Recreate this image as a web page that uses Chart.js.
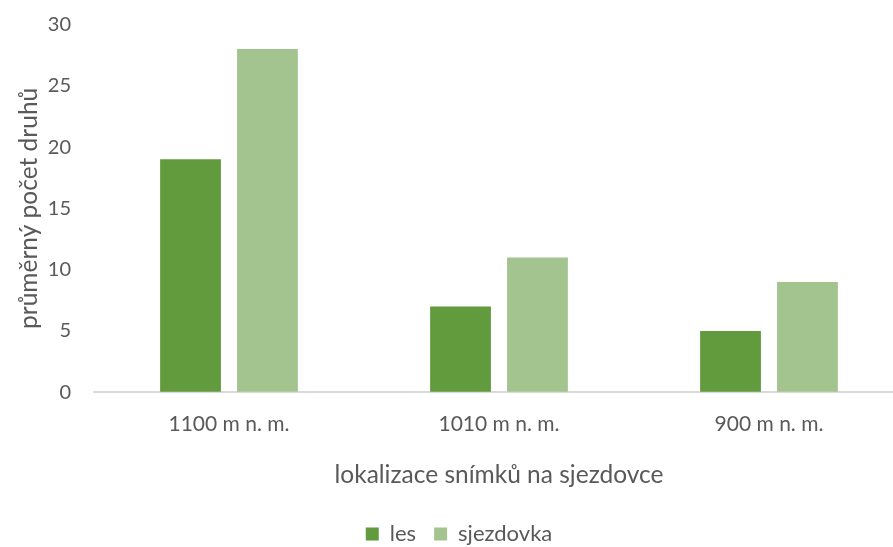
<!DOCTYPE html>
<html>
<head>
<meta charset="utf-8">
<script src="https://cdn.jsdelivr.net/npm/chart.js@4/dist/chart.umd.min.js"></script>
<style>
  html, body { margin: 0; padding: 0; background: #fff; overflow: hidden; }
  #wrap { width: 911px; height: 547px; }
</style>
</head>
<body>
<div id="wrap"><canvas id="barChart" width="911" height="547"></canvas></div>
<script>
const categories = ['1100 m n. m.', '1010 m n. m.', '900 m n. m.'];
const lesValues = [19, 7, 5];
const sjezdovkaValues = [28, 11, 9];
const yTicks = [0, 5, 10, 15, 20, 25, 30];

const textColor = '#595959';
const fontFamily = 'Lato, Carlito, Calibri, sans-serif';

Chart.defaults.font.family = fontFamily;
Chart.defaults.color = textColor;

const ctx = document.getElementById('barChart');
new Chart(ctx, {
  type: 'bar',
  data: {
    labels: categories,
    datasets: [
      {
        label: 'les',
        data: lesValues,
        backgroundColor: '#629A3E',
        categoryPercentage: 0.57,
        barPercentage: 0.79
      },
      {
        label: 'sjezdovka',
        data: sjezdovkaValues,
        backgroundColor: '#A3C48F',
        categoryPercentage: 0.57,
        barPercentage: 0.79
      }
    ]
  },
  options: {
    responsive: false,
    animation: false,
    layout: { padding: { top: 24.5, right: 7, left: 14, bottom: -8 } },
    plugins: {
      tooltip: { enabled: false },
      legend: {
        position: 'bottom',
        labels: {
          boxWidth: 13,
          boxHeight: 13,
          padding: 18,
          font: { size: 22 },
          color: textColor
        }
      }
    },
    scales: {
      x: {
        grid: { display: false, drawTicks: false },
        border: { display: true, color: '#D9D9D9', width: 2 },
        ticks: { padding: 19, font: { size: 21 } },
        title: {
          display: true,
          text: 'lokalizace snímků na sjezdovce',
          font: { size: 24.5 },
          padding: { top: 5.3, bottom: 14.8 }
        }
      },
      y: {
        min: 0,
        max: 30,
        afterBuildTicks: (scale) => { scale.ticks = yTicks.map(v => ({ value: v })); },
        // tick marks are invisible, used only to space the labels from the plot
        grid: { display: true, drawOnChartArea: false, drawTicks: true, tickLength: 23, tickColor: 'rgba(0,0,0,0)' },
        border: { display: false },
        ticks: { padding: 0, font: { size: 20 } },
        title: {
          display: true,
          text: 'průměrný počet druhů',
          font: { size: 24.5 },
          padding: { top: 0, bottom: 0 }
        },
        afterFit: (scale) => { scale.width = 80; }
      }
    }
  }
});
</script>
</body>
</html>
